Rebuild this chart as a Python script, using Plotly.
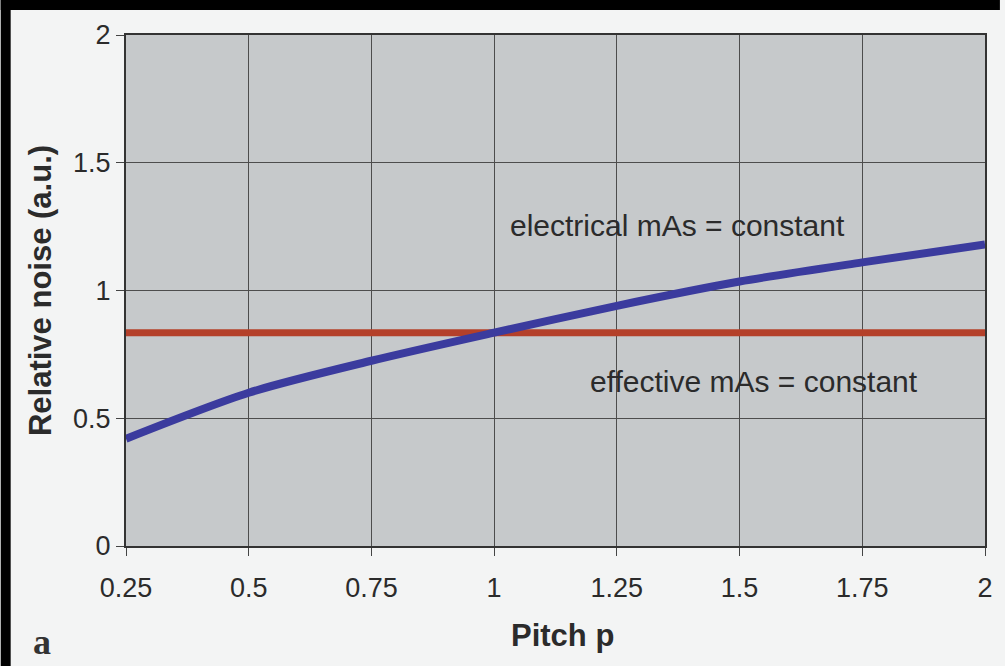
import plotly.graph_objects as go

# Data
pitch = [0.25, 0.5, 0.75, 1.0, 1.25, 1.5, 1.75, 2.0]
noise_electrical = [0.42, 0.60, 0.725, 0.835, 0.94, 1.035, 1.11, 1.18]
pitch_effective = [0.25, 2.0]
noise_effective = [0.835, 0.835]

x_ticks = [0.25, 0.5, 0.75, 1, 1.25, 1.5, 1.75, 2]
x_tick_labels = ["0.25", "0.5", "0.75", "1", "1.25", "1.5", "1.75", "2"]
y_ticks = [0, 0.5, 1, 1.5, 2]
y_tick_labels = ["0", "0.5", "1", "1.5", "2"]

W, H = 1005, 666
ML, MR, MT, MB = 126, 15, 35, 120
pw, ph = W - ML - MR, H - MT - MB

def px(x):
    return (x - ML) / pw

def py(y):
    return (H - MB - y) / ph

fig = go.Figure()
fig.add_trace(go.Scatter(x=pitch_effective, y=noise_effective, mode="lines",
                         line=dict(color="#b4402a", width=7), showlegend=False,
                         hoverinfo="skip"))
fig.add_trace(go.Scatter(x=pitch, y=noise_electrical, mode="lines",
                         line=dict(color="#3b3b9e", width=8, shape="spline", smoothing=0.8),
                         showlegend=False))

text_col = "#2b2b2b"
fig.update_layout(
    width=W, height=H,
    margin=dict(l=ML, r=MR, t=MT, b=MB),
    paper_bgcolor="#f3f4f4",
    plot_bgcolor="#c6c9cb",
    font=dict(family="Liberation Sans, Arial, sans-serif", color=text_col),
    xaxis=dict(range=[0.25, 2], tickvals=x_ticks, ticktext=x_tick_labels,
               showgrid=True, gridcolor="#4d4d4d", gridwidth=1,
               showline=True, linecolor="#333333", linewidth=2, mirror=True,
               ticks="outside", ticklen=8, tickcolor="#444444",
               ticklabelstandoff=9,
               tickfont=dict(size=27, color=text_col), zeroline=False),
    yaxis=dict(range=[0, 2], tickvals=y_ticks, ticktext=y_tick_labels,
               showgrid=True, gridcolor="#4d4d4d", gridwidth=1,
               showline=True, linecolor="#333333", linewidth=2, mirror=True,
               ticks="outside", ticklen=8, tickcolor="#444444",
               tickfont=dict(size=27, color=text_col), zeroline=False,
               title=dict(text="<b>Relative noise (a.u.)</b>", font=dict(size=31, color=text_col), standoff=12)),
    annotations=[
        dict(x=px(565), y=py(635), xref="paper", yref="paper", text="<b>Pitch p</b>",
             xanchor="center", yanchor="middle",
             showarrow=False, font=dict(size=31, color=text_col)),
        dict(x=1.374, y=1.255, xref="x", yref="y", text="electrical mAs = constant",
             showarrow=False, font=dict(size=30, color=text_col)),
        dict(x=1.53, y=0.645, xref="x", yref="y", text="effective mAs = constant",
             showarrow=False, font=dict(size=30, color=text_col)),
        dict(x=px(42), y=py(642), xref="paper", yref="paper", text="<b>a</b>",
             xanchor="center", yanchor="middle",
             showarrow=False, font=dict(size=36, color="#333333",
                                        family="Liberation Serif, Times New Roman, serif")),
    ],
    shapes=[
        dict(type="rect", xref="paper", yref="paper", x0=px(0), x1=px(10), y0=py(H), y1=py(0),
             fillcolor="black", line=dict(width=0), layer="above"),
        dict(type="rect", xref="paper", yref="paper", x0=px(0), x1=px(W), y0=py(10), y1=py(0),
             fillcolor="black", line=dict(width=0), layer="above"),
    ],
)

fig.write_html("out.html")
